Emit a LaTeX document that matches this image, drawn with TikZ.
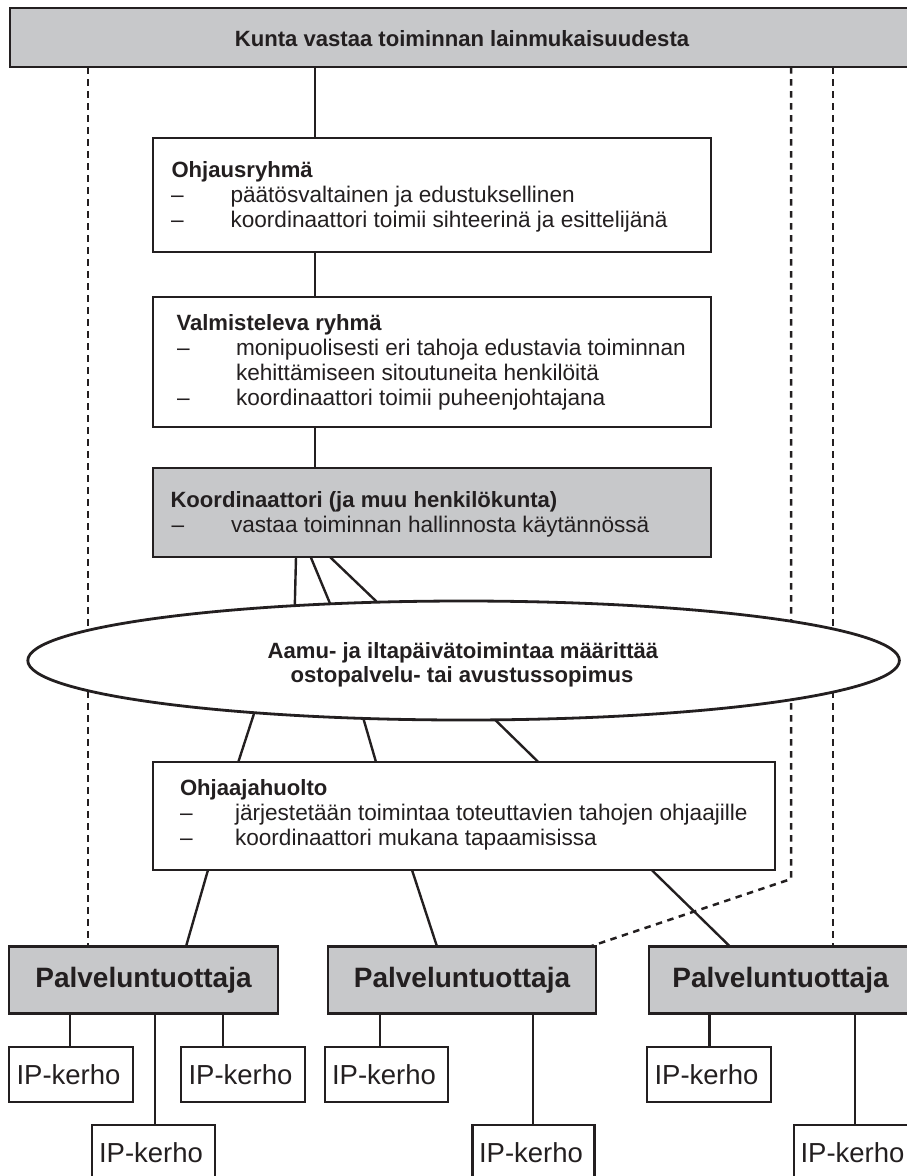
\documentclass[tikz,border=0pt]{standalone}
\usepackage{fontspec}
\setmainfont{Liberation Sans}
\usetikzlibrary{shapes.geometric,calc}
\definecolor{ink}{RGB}{35,31,32}
\definecolor{boxgray}{RGB}{199,200,202}
\pgfdeclarelayer{bg}
\pgfsetlayers{bg,main}
\begin{document}
\begin{tikzpicture}[x=1pt,y=-1pt,
  box/.style={draw=ink,line width=2.8pt,fill=white,inner sep=0pt,outer sep=0pt,anchor=north west},
  graybox/.style={box,fill=boxgray},
  conn/.style={draw=ink,line width=2.4pt},
  dashline/.style={draw=ink,line width=2.5pt,dash pattern=on 6.5pt off 5.5pt},
  txt/.style={anchor=base west,inner sep=0pt,outer sep=0pt,text=ink,font=\fontsize{22.6}{25}\selectfont},
  ttl/.style={txt,font=\fontsize{22.1}{25}\selectfont\bfseries},
  ctr/.style={ttl,anchor=base},
  paltxt/.style={font=\fontsize{28}{30}\selectfont\bfseries,text=ink},
  iptxt/.style={font=\fontsize{27.5}{30}\selectfont,text=ink}
]
\useasboundingbox (0,0) rectangle (907,1176);

% header bar
\node[graybox,minimum width=904pt,minimum height=59pt] (bar) at (10,8) {};
\node[ctr] (bartxt) at (462,46.7) {Kunta vastaa toiminnan lainmukaisuudesta};

% Ohjausryhma
\node[box,minimum width=558pt,minimum height=114pt] (ohj) at (153,138) {};
\node[ttl] (o0) at (171.5,177) {Ohjausryhmä};
\node[txt] (o1d) at (171,202.5) {–};
\node[txt] (o1) at (230.5,202.5) {päätösvaltainen ja edustuksellinen};
\node[txt] (o2d) at (171,227.5) {–};
\node[txt] (o2) at (230.5,227.5) {koordinaattori toimii sihteerinä ja esittelijänä};

% Valmisteleva ryhma
\node[box,minimum width=558pt,minimum height=130pt] (val) at (153,297) {};
\node[ttl] (v0) at (176.5,330) {Valmisteleva ryhmä};
\node[txt] (v1d) at (177,355.5) {–};
\node[txt] (v1) at (236,355.5) {monipuolisesti eri tahoja edustavia toiminnan};
\node[txt] (v2) at (236,380.5) {kehittämiseen sitoutuneita henkilöitä};
\node[txt] (v3d) at (177,405.5) {–};
\node[txt] (v3) at (236,405.5) {koordinaattori toimii puheenjohtajana};

% Koordinaattori
\node[graybox,minimum width=558pt,minimum height=89pt] (koord) at (153,468) {};
\node[ttl] (k0) at (170.5,507.5) {Koordinaattori (ja muu henkilökunta)};
\node[txt] (k1d) at (171.5,532.5) {–};
\node[txt] (k1) at (231,532.5) {vastaa toiminnan hallinnosta käytännössä};

% Ellipse
\node[ellipse,draw=ink,line width=2.8pt,fill=white,minimum width=871.6pt,minimum height=119pt,inner sep=0pt,outer sep=0pt] (ell) at (463.6,660.5) {};
\node[ctr] (e1) at (463,658.3) {Aamu- ja iltapäivätoimintaa määrittää};
\node[ctr] (e2) at (462,682.7) {ostopalvelu- tai avustussopimus};

% Ohjaajahuolto
\node[box,minimum width=622pt,minimum height=108pt] (huolto) at (153,762) {};
\node[ttl] (h0) at (180,795.7) {Ohjaajahuolto};
\node[txt] (h1d) at (180,820.7) {–};
\node[txt] (h1) at (235,820.7) {järjestetään toimintaa toteuttavien tahojen ohjaajille};
\node[txt] (h2d) at (180,845.7) {–};
\node[txt] (h2) at (235,845.7) {koordinaattori mukana tapaamisissa};

% Palveluntuottajat
\node[graybox,paltxt,minimum width=269pt,minimum height=67pt] (pal1) at (9,946.5) {Palveluntuottaja};
\node[graybox,paltxt,minimum width=268pt,minimum height=67pt] (pal2) at (328,946.5) {Palveluntuottaja};
\node[graybox,paltxt,minimum width=263pt,minimum height=67pt] (pal3) at (649,946.5) {Palveluntuottaja};

% IP-kerhot
\node[box,iptxt,minimum width=124pt,minimum height=55pt] (ipa) at (9,1047) {\kern-5pt IP-kerho};
\node[box,iptxt,minimum width=124pt,minimum height=55pt] (ipb) at (181,1047) {\kern-5pt IP-kerho};
\node[box,iptxt,minimum width=123pt,minimum height=55pt] (ipc) at (92,1125) {\kern-5pt IP-kerho};
\node[box,iptxt,minimum width=123pt,minimum height=55pt] (ipd) at (325,1047) {\kern-5pt IP-kerho};
\node[box,iptxt,minimum width=122pt,minimum height=55pt] (ipe) at (472.5,1125) {\kern-5pt IP-kerho};
\node[box,iptxt,minimum width=124pt,minimum height=55pt] (ipf) at (647,1047) {\kern-5pt IP-kerho};
\node[box,iptxt,minimum width=124pt,minimum height=55pt] (ipg) at (794,1125) {\kern-7pt IP-kerho};

% connectors
\draw[conn] (bar.south -| 315,0) -- (ohj.north -| 315,0);
\draw[conn] (ohj.south -| 315,0) -- (val.north -| 315,0);
\draw[conn] (val.south -| 315,0) -- (koord.north -| 315,0);
\draw[conn] (koord.south -| 296,0) -- (ell.162.7);
\draw[conn] (koord.south -| 310.7,0) -- (ell.157.2);
\draw[conn] (koord.south -| 330,0) -- (ell.146.4);
\draw[conn] (ell.194) -- (huolto.north -| 238.3,0);
\draw[conn] (ell.210.3) -- (huolto.north -| 376,0);
\draw[conn] (ell.298.8) -- (huolto.north -| 538.3,0);
\draw[conn] (huolto.south -| 208,0) -- (pal1.north -| 186,0);
\draw[conn] (huolto.south -| 412,0) -- (pal2.north -| 437,0);
\draw[conn] (huolto.south -| 651.7,0) -- (pal3.north -| 730,0);
\draw[conn] (pal1.south -| 70,0) -- (ipa.north -| 70,0);
\draw[conn] (pal1.south -| 155,0) -- (ipc.north -| 155,0);
\draw[conn] (pal1.south -| 222.7,0) -- (ipb.north -| 222.7,0);
\draw[conn] (pal2.south -| 380,0) -- (ipd.north -| 380,0);
\draw[conn] (pal2.south -| 533,0) -- (ipe.north -| 533,0);
\draw[conn] (pal3.south -| 709.3,0) -- (ipf.north -| 709.3,0);
\draw[conn] (pal3.south -| 854.7,0) -- (ipg.north -| 854.7,0);

% dashed lines behind
\coordinate (bend) at (791,879);
\begin{pgfonlayer}{bg}
\draw[dashline] (bar.south -| 88,0) -- (pal1.north -| 88,0);
\draw[dashline] (bar.south -| 791,0) -- (bend) -- (pal2.north -| 590,0);
\draw[dashline] (bar.south -| 833,0) -- (pal3.north -| 833,0);
\end{pgfonlayer}
\end{tikzpicture}
\end{document}
